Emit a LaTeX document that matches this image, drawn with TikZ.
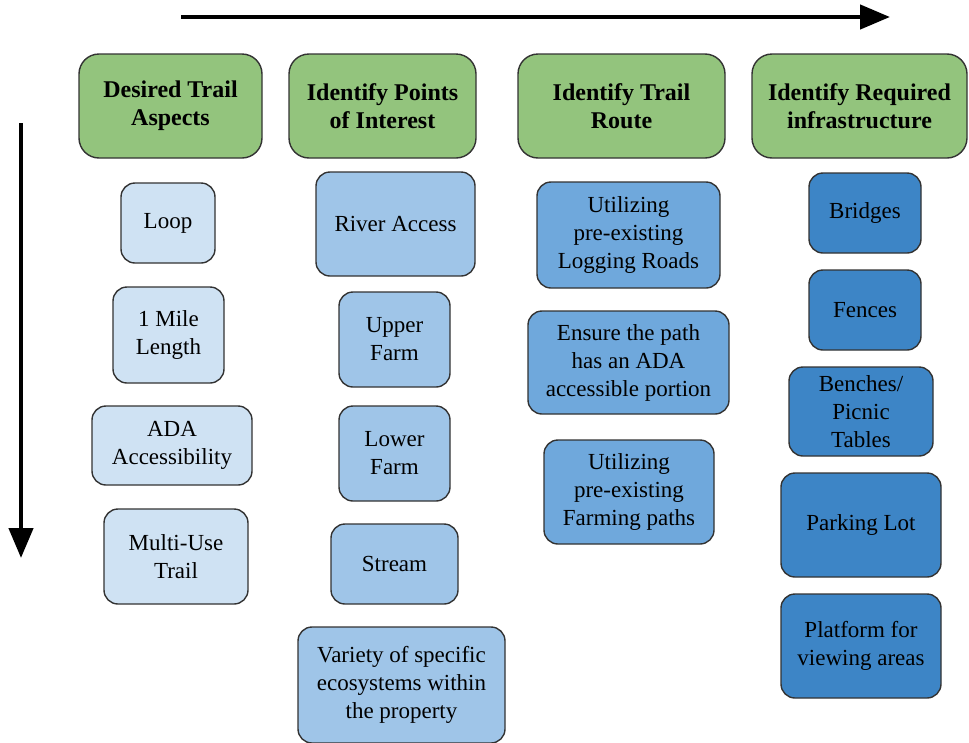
\documentclass[tikz,border=0pt]{standalone}
\usepackage{fontspec}
\setmainfont{Liberation Serif}
\usepackage{tikz}
\usetikzlibrary{arrows.meta}
\definecolor{headgreen}{HTML}{93C47D}
\definecolor{paleblue}{HTML}{CFE2F3}
\definecolor{lightblue}{HTML}{9FC5E8}
\definecolor{midblue}{HTML}{6FA8DC}
\definecolor{deepblue}{HTML}{3D85C6}
\definecolor{edgegrey}{HTML}{333333}
\tikzset{
  box/.style={draw=edgegrey, line width=1.4pt, rounded corners=14pt, align=center,
    inner sep=0pt, font=\fontsize{23}{28}\selectfont},
  headbox/.style={box, fill=headgreen, rounded corners=20pt,
    minimum height=104pt, font=\fontsize{24}{28}\selectfont\bfseries},
  flow/.style={line width=4.5pt, -{Triangle[length=30pt,width=24pt]}}
}
\begin{document}
\begin{tikzpicture}[x=1pt,y=-1pt]
\useasboundingbox (0,0) rectangle (969,742);
\node[headbox, minimum width=183pt] (aspects) at (170.5,106) {Desired Trail\\Aspects};
\node[headbox, minimum width=187pt] (points) at (382.5,106) {Identify Points\\of Interest};
\node[headbox, minimum width=207pt] (route) at (621.5,106) {Identify Trail\\Route};
\node[headbox, minimum width=215pt] (infra) at (859.5,106) {Identify Required\\infrastructure};
\node[box, fill=paleblue, minimum width=94pt, minimum height=80pt] (loop) at (168,223) {Loop};
\node[box, fill=paleblue, minimum width=111pt, minimum height=96pt] (mile) at (168.5,335) {1 Mile\\Length};
\node[box, fill=paleblue, minimum width=160pt, minimum height=79pt] (ada) at (172,445.5) {ADA\\Accessibility};
\node[box, fill=paleblue, minimum width=144pt, minimum height=95pt] (multi) at (176,556.5) {Multi-Use\\Trail};
\node[box, fill=lightblue, minimum width=159pt, minimum height=104pt] (river) at (395.5,224) {River Access};
\node[box, fill=lightblue, minimum width=111pt, minimum height=95pt] (upper) at (394.5,339.5) {Upper\\Farm};
\node[box, fill=lightblue, minimum width=111pt, minimum height=95pt] (lower) at (394.5,453.5) {Lower\\Farm};
\node[box, fill=lightblue, minimum width=127pt, minimum height=80pt] (stream) at (394.5,564) {Stream};
\node[box, fill=lightblue, minimum width=207pt, minimum height=116pt] (variety) at (401.5,685) {Variety of specific\\ecosystems within\\the property};
\node[box, fill=midblue, minimum width=183pt, minimum height=106pt] (logging) at (628.5,235) {Utilizing\\pre-existing\\Logging Roads};
\node[box, fill=midblue, minimum width=201pt, minimum height=103pt] (ensure) at (628.5,362.5) {Ensure the path\\has an ADA\\accessible portion};
\node[box, fill=midblue, minimum width=170pt, minimum height=104pt] (farming) at (629,492) {Utilizing\\pre-existing\\Farming paths};
\node[box, fill=deepblue, minimum width=112pt, minimum height=80pt] (bridges) at (865,213) {Bridges};
\node[box, fill=deepblue, minimum width=112pt, minimum height=80pt] (fences) at (865,310) {Fences};
\node[box, fill=deepblue, minimum width=144pt, minimum height=89pt] (benches) at (861,411.5) {Benches/\\Picnic\\Tables};
\node[box, fill=deepblue, minimum width=160pt, minimum height=104pt] (parking) at (861,525) {Parking Lot};
\node[box, fill=deepblue, minimum width=160pt, minimum height=104pt] (platform) at (861,646) {Platform for\\viewing areas};
\coordinate (rowstart) at (181,17);
\coordinate (rowend) at (890,17);
\coordinate (colstart) at (21,123);
\coordinate (colend) at (21,558);
\draw[flow] (rowstart) -- (rowend);
\draw[flow] (colstart) -- (colend);
\end{tikzpicture}
\end{document}
